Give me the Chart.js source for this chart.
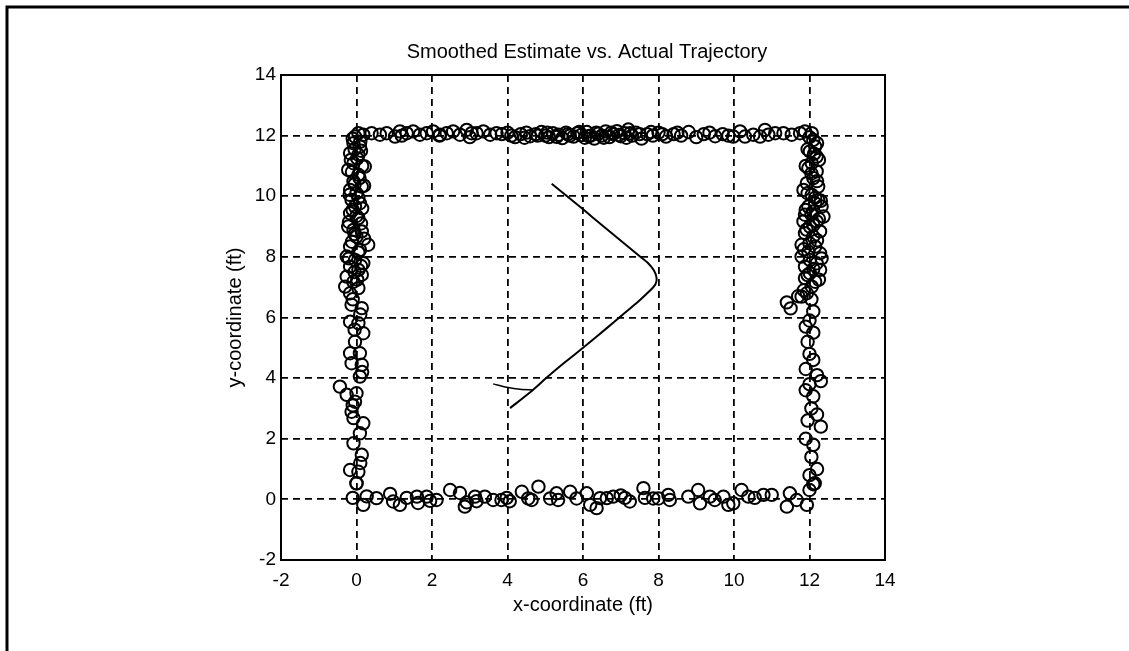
<!DOCTYPE html>
<html>
<head>
<meta charset="utf-8">
<title>Smoothed Estimate vs. Actual Trajectory</title>
<script src="https://cdn.jsdelivr.net/npm/chart.js@4.4.1/dist/chart.umd.min.js"></script>
<style>
  html, body { margin: 0; padding: 0; background: #fff; }
  #wrap { position: relative; width: 1129px; height: 651px; }
</style>
</head>
<body>
<div id="wrap"><canvas id="traj"></canvas></div>
<script>
// ticks
const xTicks = [-2, 0, 2, 4, 6, 8, 10, 12, 14];
const yTicks = [-2, 0, 2, 4, 6, 8, 10, 12, 14];
const chartTitle = "Smoothed Estimate vs. Actual Trajectory";

// actual trajectory (circles) -- bottom edge, y ~ 0
const bottomX = [0.0, -0.1, 0.18, 0.27, 0.53, 0.89, 0.97, 1.15, 1.33, 1.6, 1.63, 1.86, 1.95, 2.12, 2.48, 2.74, 2.87, 2.92, 3.14, 3.18, 3.4, 3.62, 3.84, 3.98, 4.06, 4.38, 4.55, 4.64, 4.82, 5.13, 5.3, 5.34, 5.66, 5.83, 6.1, 6.19, 6.36, 6.45, 6.63, 6.8, 7.0, 7.11, 7.24, 7.6, 7.64, 7.86, 8.0, 8.26, 8.3, 8.79, 9.05, 9.1, 9.36, 9.49, 9.72, 9.85, 9.98, 10.2, 10.38, 10.55, 10.78, 11.0, 11.4, 11.48, 11.66, 11.93, 12.0, 12.14];
const bottomY = [0.53, 0.05, -0.18, 0.1, 0.04, 0.18, -0.07, -0.18, 0.05, 0.09, -0.12, 0.09, -0.05, -0.02, 0.31, 0.21, -0.24, -0.1, 0.09, -0.06, 0.09, -0.02, -0.02, 0.05, -0.06, 0.25, 0.03, -0.02, 0.42, 0.03, 0.2, -0.02, 0.25, 0.03, 0.2, -0.18, -0.29, 0.04, 0.04, 0.09, 0.13, 0.05, -0.07, 0.37, 0.05, 0.03, 0.03, 0.15, -0.02, 0.09, 0.31, -0.13, 0.09, -0.02, 0.09, -0.18, -0.13, 0.31, 0.09, 0.05, 0.15, 0.15, -0.24, 0.2, -0.02, -0.18, 0.31, 0.53];

// left edge, x ~ 0
const leftX = [-0.04, 0.05, 0.18, -0.08, 0.09, -0.17, 0.05, -0.08, 0.22, -0.22, 0.05, -0.08, 0.14, -0.17, 0.0, -0.13, 0.09, -0.04, -0.17, 0.05, -0.22, -0.08, 0.14, 0.0, 0.31, -0.17, 0.09, -0.26, -0.04, 0.18, -0.17, 0.05, -0.26, 0.14, -0.08, -0.3, 0.05, -0.17, -0.13, 0.14, -0.17, 0.05, 0.18, -0.04, -0.17, 0.09, -0.13, 0.14, 0.09, -0.44, -0.26, 0.0, -0.04, -0.13, 0.18, -0.08, 0.09, -0.08, 0.14, -0.17, 0.05, 0.0,
  -0.1, 0.1, -0.05, 0.12, -0.15, 0.02, 0.15, -0.12, 0.08, -0.05, 0.2, -0.18, 0.05, 0.15, -0.1, 0.0, -0.2, 0.12, -0.05, 0.2, -0.12, 0.05, -0.2, 0.12, -0.05, 0.02, -0.1, 0.1, -0.05, 0.15, -0.1, 0.1];
const leftY = [11.97, 12.08, 12.03, 11.75, 11.64, 11.42, 11.37, 11.09, 10.98, 10.87, 10.71, 10.49, 10.32, 10.21, 10.1, 9.88, 9.77, 9.66, 9.44, 9.28, 9.0, 8.89, 8.84, 8.67, 8.4, 8.34, 8.23, 8.01, 7.9, 7.79, 7.68, 7.57, 7.35, 7.41, 7.18, 7.02, 6.97, 6.8, 6.42, 6.31, 5.86, 5.81, 5.48, 5.2, 4.82, 4.82, 4.49, 4.44, 4.05, 3.72, 3.45, 3.5, 3.22, 2.89, 2.51, 2.68, 2.18, 1.85, 1.47, 0.97, 0.91, 0.53,
  11.9, 11.8, 11.55, 11.5, 11.2, 11.25, 11.0, 10.8, 10.6, 10.4, 10.35, 10.05, 9.95, 9.6, 9.55, 9.35, 9.15, 9.1, 8.75, 8.6, 8.5, 8.15, 7.95, 7.7, 7.5, 7.25, 6.6, 6.1, 5.6, 4.2, 3.1, 1.2];

// top edge, y ~ 12
const topX = [0.4, 0.62, 0.8, 1.02, 1.15, 1.33, 1.5, 1.68, 1.86, 2.03, 2.21, 2.39, 2.56, 2.74, 2.92, 3.05, 3.18, 3.36, 3.54, 3.71, 3.85, 4.0, 4.2, 4.35, 4.5, 4.6, 4.75, 4.9, 5.0, 5.1, 5.2, 5.35, 5.45, 5.55, 5.65, 5.75, 5.85, 5.95, 6.05, 6.1, 6.2, 6.3, 6.4, 6.5, 6.6, 6.7, 6.8, 6.9, 7.0, 7.1, 7.2, 7.3, 7.4, 7.55, 7.7, 7.85, 8.0, 8.2, 8.4, 8.6, 8.8, 9.0, 9.2, 9.35, 9.5, 9.7, 9.85, 9.98, 10.16, 10.29, 10.51, 10.69, 10.82, 10.91, 11.09, 11.31, 11.53, 11.75, 11.88, 12.06,
  4.1, 4.45, 4.8, 5.05, 5.3, 5.6, 5.9, 6.15, 6.35, 6.55, 6.75, 6.95, 7.15, 7.25, 7.5, 7.8, 8.1, 8.5, 3.0, 2.2, 1.2];
const topY = [12.08, 12.03, 12.08, 11.97, 12.14, 12.08, 12.14, 12.03, 12.08, 12.14, 12.03, 12.08, 12.14, 12.03, 12.19, 12.08, 12.08, 12.14, 12.03, 12.08, 12.05, 12.1, 11.95, 12.05, 12.1, 11.98, 12.05, 12.12, 12.0, 11.95, 12.08, 12.03, 11.92, 12.1, 12.0, 11.97, 12.08, 12.02, 11.93, 12.12, 12.0, 11.9, 12.06, 12.0, 12.14, 11.95, 12.05, 12.15, 11.98, 12.08, 12.2, 12.0, 12.1, 11.9, 12.05, 12.0, 12.1, 11.97, 12.05, 12.0, 12.12, 11.95, 12.05, 12.1, 11.98, 12.05, 12.0, 11.97, 12.14, 11.97, 12.03, 11.97, 12.19, 12.03, 12.08, 12.08, 12.03, 12.08, 12.14, 12.08,
  12.0, 11.93, 12.0, 12.1, 11.96, 12.05, 12.12, 11.98, 12.1, 11.93, 12.1, 12.02, 11.93, 12.08, 12.05, 12.12, 12.05, 12.1, 11.95, 12.0, 12.0];

// right edge, x ~ 12
const rightX = [12.1, 12.15, 12.01, 12.19, 12.06, 11.97, 12.19, 12.1, 11.93, 12.23, 11.84, 12.06, 12.23, 12.15, 11.97, 12.32, 12.1, 11.88, 12.37, 12.19, 11.84, 12.01, 12.28, 11.88, 12.1, 11.79, 12.15, 11.97, 12.28, 11.79, 12.01, 12.19, 11.88, 12.28, 12.01, 11.88, 12.15, 12.06, 11.93, 11.79, 11.4, 11.5, 11.7, 12.1, 12.0, 11.9, 12.1, 11.95, 12.0, 12.1, 11.9, 12.2, 12.3, 12.0, 11.9, 12.1, 12.05, 12.2, 11.95, 12.3, 11.9, 12.1, 12.05, 12.2, 12.0, 12.1,
  12.0, 12.2, 11.95, 12.12, 12.25, 11.9, 12.05, 12.2, 11.95, 12.15, 12.3, 11.9, 12.05, 12.25, 12.1, 11.92, 12.2, 12.0, 11.85, 12.32, 12.1, 11.95, 12.25, 11.85, 12.05];
const rightY = [11.86, 11.64, 11.48, 11.31, 11.09, 10.93, 10.82, 10.6, 10.43, 10.32, 10.21, 10.05, 9.88, 9.77, 9.66, 9.66, 9.5, 9.39, 9.33, 9.17, 9.17, 9.0, 8.84, 8.78, 8.67, 8.4, 8.34, 8.17, 8.12, 8.01, 7.9, 7.79, 7.68, 7.57, 7.46, 7.3, 7.18, 7.02, 6.8, 6.69, 6.5, 6.3, 6.7, 6.2, 5.9, 5.7, 5.5, 5.2, 4.8, 4.6, 4.3, 4.1, 3.9, 3.8, 3.6, 3.4, 3.0, 2.8, 2.6, 2.4, 2.0, 1.8, 1.4, 1.0, 0.8, 0.5,
  11.95, 11.75, 11.55, 11.4, 11.2, 11.0, 10.75, 10.5, 10.1, 9.95, 9.85, 9.55, 9.4, 9.25, 9.05, 8.9, 8.55, 8.45, 8.25, 7.95, 7.6, 7.4, 7.25, 6.9, 6.6];

// smoothed estimate (line)
const estX = [4.07, 4.68, 5.04, 5.48, 6.05, 6.63, 7.03, 7.51, 7.77, 7.92, 7.95, 7.88, 7.72, 7.51, 6.98, 6.45, 6.05, 5.66, 5.17];
const estY = [3.01, 3.62, 4.02, 4.48, 5.05, 5.65, 6.07, 6.58, 6.88, 7.1, 7.3, 7.55, 7.8, 8.01, 8.56, 9.1, 9.52, 9.92, 10.41];
const hookX = [3.62, 3.98, 4.33, 4.68];
const hookY = [3.81, 3.7, 3.63, 3.61];

const FONT = "'Liberation Sans', Arial, Helvetica, sans-serif";
const toPts = (xs, ys) => xs.map((x, i) => ({ x, y: ys[i] }));
const circles = [].concat(
  toPts(bottomX, bottomY), toPts(leftX, leftY), toPts(topX, topY), toPts(rightX, rightY)
);

// outer frame, solid axes box, centred title
const framePlugin = {
  id: "frame",
  beforeDraw(chart){
    const c = chart.ctx;
    c.save();
    c.fillStyle = "#fff";
    c.fillRect(0, 0, chart.width, chart.height);
    c.strokeStyle = "#000";
    c.lineWidth = 3;
    c.beginPath();
    c.moveTo(7, chart.height);
    c.lineTo(7, 7);
    c.lineTo(chart.width, 7);
    c.stroke();
    c.restore();
  },
  afterDatasetsDraw(chart){
    const a = chart.chartArea, c = chart.ctx;
    c.save();
    c.strokeStyle = "#000";
    c.lineWidth = 2;
    c.strokeRect(a.left, a.top, a.right - a.left, a.bottom - a.top);
    c.fillStyle = "#000";
    c.font = "20px " + FONT;
    c.textAlign = "center";
    c.textBaseline = "middle";
    c.fillText(chartTitle, (a.left + a.right) / 2 + 4, 52);
    c.restore();
  }
};

new Chart(document.getElementById("traj"), {
  type: "scatter",
  data: {
    datasets: [
      {
        label: "Actual",
        data: circles,
        pointStyle: "circle",
        pointRadius: 6.2,
        pointBorderWidth: 2,
        borderColor: "#000",
        backgroundColor: "rgba(0,0,0,0)",
        showLine: false
      },
      {
        label: "Smoothed estimate",
        data: toPts(estX, estY),
        showLine: true,
        borderColor: "#000",
        borderWidth: 2,
        pointRadius: 0,
        tension: 0.2
      },
      {
        label: "hook",
        data: toPts(hookX, hookY),
        showLine: true,
        borderColor: "#000",
        borderWidth: 1.5,
        pointRadius: 0,
        tension: 0.3
      }
    ]
  },
  options: {
    responsive: true,
    maintainAspectRatio: false,
    animation: false,
    layout: { padding: { left: 0, right: 244, top: 75, bottom: 0 } },
    plugins: {
      legend: { display: false },
      tooltip: { enabled: false },
      title: { display: false }
    },
    scales: {
      x: {
        type: "linear",
        min: -2, max: 14,
        afterBuildTicks: s => { s.ticks = xTicks.map(v => ({ value: v })); },
        afterFit: s => { s.height = 91; },
        ticks: { color: "#000", padding: 9, font: { family: FONT, size: 19 } },
        grid: { color: "#000", lineWidth: 1.8, drawTicks: false },
        border: { display: false, dash: [7, 5] },
        title: {
          display: true,
          text: "x-coordinate (ft)",
          color: "#000",
          font: { family: FONT, size: 20 },
          padding: { top: 0, bottom: 34 }
        }
      },
      y: {
        type: "linear",
        min: -2, max: 14,
        afterBuildTicks: s => { s.ticks = yTicks.map(v => ({ value: v })); },
        afterFit: s => { s.width = 281; },
        ticks: { color: "#000", padding: 5, font: { family: FONT, size: 19 } },
        grid: { color: "#000", lineWidth: 1.8, drawTicks: false },
        border: { display: false, dash: [7, 5] },
        title: {
          display: true,
          text: "y-coordinate (ft)",
          color: "#000",
          font: { family: FONT, size: 20 },
          padding: { top: 223, bottom: 0 }
        }
      }
    }
  },
  plugins: [framePlugin]
});
</script>
</body>
</html>
